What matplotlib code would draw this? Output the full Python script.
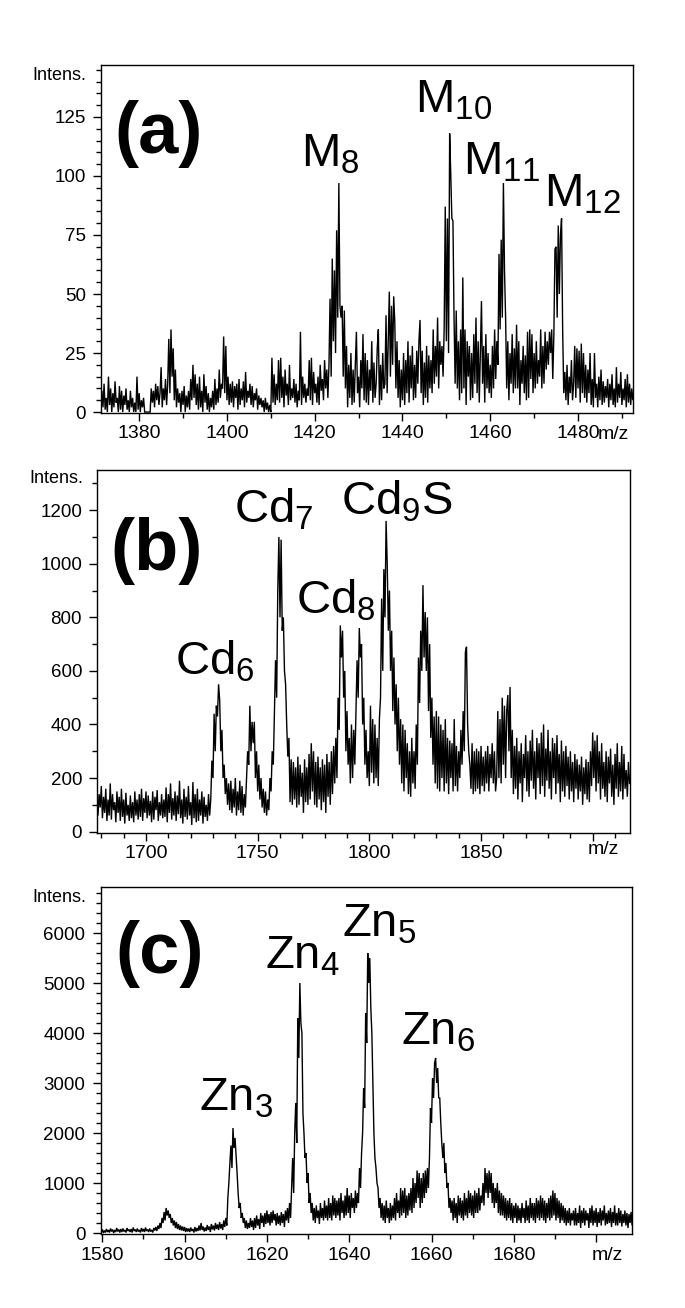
import numpy as np
import matplotlib
matplotlib.use("Agg")
import matplotlib.pyplot as plt
from matplotlib.ticker import MultipleLocator, FixedLocator, FixedFormatter

plt.rcParams['font.family'] = ['Liberation Sans', 'DejaVu Sans']
plt.rcParams['mathtext.fontset'] = 'custom'
plt.rcParams['mathtext.rm'] = 'Liberation Sans'
plt.rcParams['mathtext.it'] = 'Liberation Sans'
plt.rcParams['mathtext.default'] = 'rm'

# ---------------- data ----------------
# panel (a): intensity sampled every 0.25 m/z starting at 1371.0 (one row = 1 m/z)
start_a = 1371.0
step_a = 0.25
int_a = [
    5, 0, 9, 2,   12, 1, 6, 0,   15, 3, 10, 0,   8, 2, 13, 4,   6, 0, 11, 1,      # 1371-1375
    9, 0, 7, 3,   10, 1, 5, 0,   9, 2, 6, 0,     4, 0, 15, 1,   8, 0, 5, 2,       # 1376-1380
    6, 0, 0, 0,   0, 0, 0, 10,   4, 9, 2, 12,    5, 11, 3, 8,   19, 2, 10, 5,     # 1381-1385
    14, 3, 12, 31, 8, 35, 15, 27, 5, 18, 2, 10,  4, 8, 0, 9,    3, 11, 0, 7,      # 1386-1390
    2, 9, 1, 14,  5, 20, 6, 16,  3, 12, 1, 15,   2, 9, 0, 16,   4, 11, 1, 8,      # 1391-1395
    0, 6, 2, 9,   1, 14, 3, 10,  4, 18, 6, 12,   10, 32, 8, 28, 5, 15, 3, 12,     # 1396-1400
    4, 13, 2, 11, 6, 12, 1, 14,  3, 10, 5, 13,   2, 17, 4, 9,   6, 12, 3, 11,     # 1401-1405
    2, 8, 5, 10,  1, 7, 3, 6,    2, 5, 0, 6,     1, 4, 0, 3,    0, 23, 4, 16,     # 1406-1410
    3, 12, 5, 22, 4, 23, 6, 15,  2, 18, 7, 12,   3, 20, 5, 10,  6, 14, 4, 12,     # 1411-1415
    2, 9, 5, 34,  3, 15, 6, 12,  4, 10, 7, 22,   5, 23, 3, 17,  8, 12, 4, 15,     # 1416-1420
    3, 20, 9, 14, 5, 22, 10, 18, 6, 20, 48, 15,  65, 30, 60, 25, 77, 40, 97, 45,  # 1421-1425
    40, 45, 15, 43, 10, 28, 2, 20, 6, 25, 3, 18, 4, 20, 34, 8,  15, 2, 22, 10,    # 1426-1430
    33, 5, 25, 4, 22, 3, 18, 9,  30, 4, 21, 6,   12, 27, 35, 3, 20, 5, 25, 10,    # 1431-1435
    12, 41, 8, 30, 51, 15, 45, 20, 49, 38, 10, 30, 6, 22, 2, 18, 5, 25, 3, 22,    # 1436-1440
    8, 30, 4, 24, 10, 28, 5, 20, 6, 26, 12, 30,  39, 8, 26, 3,  21, 6, 28, 4,     # 1441-1445
    24, 10, 22, 8, 35, 12, 28, 15, 40, 10, 30, 20, 28, 15, 35, 87, 30, 82, 25, 118,  # 1446-1450
    101, 82, 81, 40, 12, 43, 10, 30, 5, 35, 8, 57, 10, 35, 3, 30, 15, 28, 5, 25,  # 1451-1455
    6, 33, 12, 40, 8, 30, 4, 26, 47, 12, 28, 4,  33, 10, 25, 8, 20, 6, 28, 10,    # 1456-1460
    35, 14, 30, 20, 67, 35, 73, 40, 97, 60, 40, 10, 30, 5, 25, 12, 33, 8, 27, 10, # 1461-1465
    37, 10, 30, 3, 22, 12, 28, 8, 24, 5, 34, 6,  35, 14, 33, 8, 25, 10, 30, 12,   # 1466-1470
    22, 15, 35, 10, 28, 12, 34, 18, 30, 20, 34, 25, 35, 14, 33, 69, 70, 40, 79, 50,  # 1471-1475
    75, 82, 35, 8, 17, 5, 20, 3, 15, 8, 22, 5,   12, 28, 6, 27, 10, 26, 4, 29,    # 1476-1480
    8, 25, 6, 20, 4, 18, 8, 25,  3, 14, 2, 25,   6, 12, 2, 15,  5, 18, 3, 13,     # 1481-1485
    4, 11, 6, 14, 2, 12, 5, 16,  3, 10, 2, 19,   4, 12, 6, 17,  3, 10, 5, 14,     # 1486-1490
    2, 16, 4, 12, 3, 10, 5, 9,                                                    # 1491-1492
]

# panel (b): intensity sampled every 0.5 m/z starting at 1678 (one row = 5 m/z)
start_b = 1678.0
step_b = 0.5
int_b = [
    150, 60, 140, 90, 170, 50, 130, 70, 160, 40,        # 1678
    120, 60, 180, 45, 140, 80, 110, 35, 150, 70,        # 1683
    130, 40, 160, 55, 120, 30, 145, 60, 100, 40,        # 1688
    135, 50, 110, 35, 150, 60, 120, 45, 140, 55,        # 1693
    160, 40, 125, 70, 150, 50, 135, 60, 115, 35,        # 1698
    150, 45, 130, 80, 155, 40, 110, 60, 140, 50,        # 1703
    120, 55, 165, 35, 140, 70, 180, 45, 125, 60,        # 1708
    150, 40, 135, 65, 190, 50, 120, 30, 160, 55,        # 1713
    130, 45, 170, 60, 110, 25, 185, 50, 140, 35,        # 1718
    160, 40, 120, 60, 150, 30, 130, 55, 100, 40,        # 1723
    140, 60, 120, 265, 200, 440, 300, 470, 430, 550,    # 1728
    490, 300, 380, 200, 250, 140, 200, 100, 180, 80,    # 1733
    190, 70, 160, 90, 200, 60, 150, 80, 190, 70,        # 1738
    170, 60, 140, 90, 200, 300, 250, 470, 300, 410,     # 1743
    330, 410, 200, 300, 150, 250, 120, 200, 90, 160,    # 1748
    70, 150, 60, 120, 80, 200, 150, 300, 250, 450,      # 1753
    640, 500, 900, 1100, 800, 1090, 750, 800, 600, 550, # 1758
    400, 280, 350, 110, 270, 100, 260, 120, 240, 90,    # 1763
    280, 100, 250, 130, 220, 70, 270, 110, 240, 100,    # 1768
    290, 120, 330, 150, 300, 100, 260, 90, 280, 120,    # 1773
    240, 80, 270, 110, 250, 70, 290, 130, 260, 100,     # 1778
    300, 140, 320, 180, 350, 200, 500, 380, 770, 650,   # 1783
    750, 500, 600, 300, 450, 250, 350, 180, 400, 200,   # 1788
    380, 250, 450, 640, 500, 760, 650, 700, 400, 500,   # 1793
    250, 380, 200, 300, 170, 470, 220, 420, 180, 400,   # 1798
    200, 350, 170, 420, 500, 870, 600, 980, 800, 1160,  # 1803
    1000, 750, 900, 600, 750, 450, 650, 400, 550, 300,  # 1808
    500, 250, 420, 180, 400, 150, 380, 200, 330, 140,   # 1813
    300, 130, 350, 180, 300, 160, 400, 250, 650, 480,   # 1818
    750, 600, 920, 650, 820, 600, 800, 450, 700, 350,   # 1823
    500, 250, 430, 180, 450, 160, 430, 150, 400, 200,   # 1828
    380, 150, 420, 180, 350, 140, 340, 200, 330, 150,   # 1833
    420, 170, 320, 150, 300, 200, 380, 250, 450, 300,   # 1838
    670, 690, 400, 300, 250, 160, 330, 140, 300, 150,   # 1843
    310, 160, 300, 140, 320, 170, 280, 150, 300, 180,   # 1848
    320, 150, 290, 200, 330, 180, 300, 150, 200, 450,   # 1853
    200, 420, 180, 500, 250, 470, 200, 450, 510, 300,   # 1858
    540, 200, 380, 140, 320, 160, 350, 120, 300, 180,   # 1863
    330, 110, 290, 200, 360, 150, 300, 130, 340, 190,   # 1868
    380, 160, 300, 120, 350, 200, 330, 140, 370, 170,   # 1873
    400, 130, 310, 190, 380, 160, 300, 120, 350, 200,   # 1878
    330, 140, 360, 180, 290, 110, 340, 150, 300, 130,   # 1883
    320, 170, 280, 120, 300, 150, 260, 110, 290, 160,   # 1888
    270, 120, 250, 150, 280, 100, 240, 140, 270, 120,   # 1893
    260, 110, 300, 170, 370, 200, 340, 150, 360, 180,   # 1898
    300, 120, 330, 160, 260, 130, 300, 110, 280, 180,   # 1903
    310, 130, 250, 100, 290, 160, 330, 130, 260, 150,   # 1908
    320, 120, 290, 160, 230, 130, 260, 180,             # 1913
]

# panel (c): intensity sampled every 0.25 m/z starting at 1579 (one row = 2 m/z)
start_c = 1579.0
step_c = 0.25
int_c = [
    40, 10, 60, 20, 70, 0, 50, 10,                   # 1579
    80, 20, 60, 10, 90, 30, 70, 0,                   # 1581
    60, 20, 100, 30, 70, 10, 80, 20,                 # 1583
    90, 30, 60, 10, 100, 40, 70, 20,                 # 1585
    80, 10, 110, 40, 70, 20, 90, 30,                 # 1587
    60, 10, 100, 30, 80, 20, 110, 40,                # 1589
    70, 20, 90, 30, 60, 10, 100, 50,                 # 1591
    120, 40, 150, 80, 200, 100, 300, 200,            # 1593
    420, 250, 500, 350, 450, 300, 380, 200,          # 1595
    300, 150, 250, 100, 220, 80, 180, 60,            # 1597
    150, 50, 130, 40, 120, 20, 100, 30,              # 1599
    90, 20, 110, 40, 80, 10, 120, 30,                # 1601
    100, 40, 150, 50, 200, 60, 130, 30,              # 1603
    110, 40, 160, 60, 130, 20, 180, 70,              # 1605
    150, 50, 200, 80, 170, 60, 220, 90,              # 1607
    180, 60, 250, 120, 300, 150, 700, 1000,          # 1609
    1400, 1750, 1300, 2100, 1700, 1900, 1550, 1200,  # 1611
    800, 500, 600, 300, 400, 200, 300, 100,          # 1613
    250, 80, 200, 100, 300, 120, 250, 60,            # 1615
    300, 100, 350, 150, 280, 80, 400, 200,           # 1617
    350, 120, 400, 180, 450, 200, 380, 150,          # 1619
    420, 200, 450, 250, 380, 150, 400, 180,          # 1621
    350, 150, 420, 200, 380, 120, 450, 250,          # 1623
    500, 200, 600, 300, 900, 1500, 800, 2000,        # 1625
    2600, 1800, 4300, 3500, 5000, 4200, 4000, 2400,  # 1627
    2000, 1500, 1600, 1000, 1200, 600, 800, 400,     # 1629
    600, 250, 500, 200, 550, 300, 450, 180,          # 1631
    600, 300, 500, 250, 650, 300, 550, 250,          # 1633
    700, 300, 600, 250, 750, 350, 700, 300,          # 1635
    650, 350, 700, 250, 800, 400, 650, 300,          # 1637
    750, 350, 900, 400, 750, 300, 800, 500,          # 1639
    700, 400, 850, 500, 800, 600, 1300, 900,         # 1641
    1600, 2000, 2900, 2500, 4400, 3800, 5600, 5000,  # 1643
    5500, 4500, 4000, 3000, 2000, 1500, 1300, 1000,  # 1645
    900, 500, 700, 300, 600, 250, 550, 200,          # 1647
    650, 300, 500, 200, 600, 250, 550, 300,          # 1649
    700, 250, 800, 400, 650, 300, 900, 350,          # 1651
    850, 400, 900, 300, 750, 350, 800, 450,          # 1653
    900, 400, 1100, 500, 1000, 600, 1250, 700,       # 1655
    1200, 500, 1100, 600, 1200, 700, 1250, 800,      # 1657
    1300, 900, 1500, 2500, 2200, 3100, 2700, 3400,   # 1659
    3500, 3000, 3300, 2700, 2700, 2200, 1800, 1500,  # 1661
    1800, 1200, 1400, 900, 1000, 500, 700, 400,      # 1663
    650, 250, 700, 300, 600, 200, 750, 350,          # 1665
    700, 300, 650, 250, 800, 350, 700, 300,          # 1667
    850, 400, 800, 350, 750, 300, 850, 400,          # 1669
    800, 400, 900, 450, 750, 600, 1000, 550,         # 1671
    1300, 800, 1200, 700, 1250, 800, 1200, 600,      # 1673
    1000, 500, 900, 600, 1000, 400, 850, 350,        # 1675
    800, 350, 750, 300, 700, 250, 650, 300,          # 1677
    700, 250, 600, 200, 550, 300, 600, 200,          # 1679
    550, 250, 500, 200, 600, 300, 500, 200,          # 1681
    650, 250, 550, 200, 700, 300, 600, 250,          # 1683
    600, 200, 700, 300, 650, 250, 750, 300,          # 1685
    700, 250, 650, 200, 600, 300, 700, 250,          # 1687
    750, 300, 850, 350, 800, 250, 700, 300,          # 1689
    650, 200, 600, 250, 550, 200, 500, 150,          # 1691
    450, 200, 500, 150, 400, 250, 450, 150,          # 1693
    500, 150, 400, 200, 550, 100, 450, 200,          # 1695
    500, 150, 450, 250, 400, 100, 500, 200,          # 1697
    550, 150, 450, 200, 500, 120, 420, 200,          # 1699
    500, 150, 450, 250, 550, 150, 400, 180,          # 1701
    450, 200, 500, 120, 420, 200, 550, 150,          # 1703
    400, 150, 500, 200, 450, 130, 380, 200,          # 1705
    450, 150, 400, 100, 380, 200, 420, 150,          # 1707
    350, 150,                                        # 1709
]

panel_tags = ['(a)', '(b)', '(c)']
xticks_a = [1380, 1400, 1420, 1440, 1460, 1480]
xticks_b = [1700, 1750, 1800, 1850, 1900]
xticks_c = [1580, 1600, 1620, 1640, 1660, 1680, 1700]
xlabels_a = ['1380', '1400', '1420', '1440', '1460', '1480']
xlabels_b = ['1700', '1750', '1800', '1850', '']
xlabels_c = ['1580', '1600', '1620', '1640', '1660', '1680', '']
yticks_a = [0, 25, 50, 75, 100, 125]
yticks_b = [0, 200, 400, 600, 800, 1000, 1200]
yticks_c = [0, 1000, 2000, 3000, 4000, 5000, 6000]

peaks_a = [r'M$_{8}$', r'M$_{10}$', r'M$_{11}$', r'M$_{12}$']
peaks_b = [r'Cd$_{6}$', r'Cd$_{7}$', r'Cd$_{8}$', r'Cd$_{9}$S']
peaks_c = [r'Zn$_{3}$', r'Zn$_{4}$', r'Zn$_{5}$', r'Zn$_{6}$']

# ---------------- layout ----------------
W, H = 685, 1308
fig = plt.figure(figsize=(W / 100, H / 100), dpi=100)

def box(l, t, r, b):
    return [l / W, 1 - b / H, (r - l) / W, (b - t) / H]

def fx(px):
    return px / W

def fy(py):
    return 1 - py / H

panels = [
    dict(rect=box(101, 65, 633.3, 413), start=start_a, step=step_a, y=int_a,
         xlim=(1371.3, 1492.6), ylim=(-0.4, 147), xt=xticks_a, xl=xlabels_a,
         xminor=10, yt=yticks_a, yminor=5,
         labels=peaks_a, lpos=[(301, 167), (415, 113), (463, 174), (544, 207)],
         tag=(159, 134), intens=(86, 75), mz=(598, 435), mz_ha='left'),
    dict(rect=box(97.3, 470, 630, 832.7), start=start_b, step=step_b, y=int_b,
         xlim=(1678.2, 1916.7), ylim=(-4, 1350), xt=xticks_b, xl=xlabels_b,
         xminor=10, yt=yticks_b, yminor=100,
         labels=peaks_b, lpos=[(175, 674), (234, 523), (296, 613), (341, 515)],
         tag=(157, 551), intens=(83, 478), mz=(603, 850), mz_ha='center'),
    dict(rect=box(100.7, 886.7, 632.3, 1234), start=start_c, step=step_c, y=int_c,
         xlim=(1579.6, 1708.8), ylim=(-20, 6926), xt=xticks_c, xl=xlabels_c,
         xminor=10, yt=yticks_c, yminor=200,
         labels=peaks_c, lpos=[(199, 1111), (265, 968), (342, 937), (401, 1045)],
         tag=(160, 954), intens=(86, 897), mz=(607, 1255), mz_ha='center'),
]

for i, p in enumerate(panels):
    ax = fig.add_axes(p['rect'])
    yv = np.array(p['y'], dtype=float)
    xv = p['start'] + p['step'] * np.arange(len(yv))
    ax.plot(xv, yv, color='black', lw=1.0, solid_joinstyle='miter')
    ax.set_xlim(*p['xlim'])
    ax.set_ylim(*p['ylim'])
    ax.xaxis.set_major_locator(FixedLocator(p['xt']))
    ax.xaxis.set_major_formatter(FixedFormatter(p['xl']))
    ax.xaxis.set_minor_locator(MultipleLocator(p['xminor']))
    ax.yaxis.set_major_locator(FixedLocator(p['yt']))
    ax.yaxis.set_minor_locator(MultipleLocator(p['yminor']))
    ax.tick_params(which='major', direction='out', length=6, width=1.0,
                   labelsize=14, pad=3, colors='black')
    ax.tick_params(which='minor', direction='out', length=3.5, width=1.0)
    ax.tick_params(axis='y', labelsize=13.5, pad=5)
    ax.tick_params(top=False, right=False, which='both')
    for s in ax.spines.values():
        s.set_linewidth(1.0)
        s.set_color('black')
    fig.text(fx(p['tag'][0]), fy(p['tag'][1]), panel_tags[i], fontsize=52,
             fontweight='bold', ha='center', va='center')
    fig.text(fx(p['intens'][0]), fy(p['intens'][1]), 'Intens.', fontsize=13,
             ha='right', va='center')
    fig.text(fx(p['mz'][0]), fy(p['mz'][1]), 'm/z', fontsize=14,
             ha=p['mz_ha'], va='center')
    for lab, (lx, ly) in zip(p['labels'], p['lpos']):
        fig.text(fx(lx), fy(ly), lab, fontsize=34, ha='left', va='baseline')

fig.savefig('out.png', dpi=100, facecolor='white')
